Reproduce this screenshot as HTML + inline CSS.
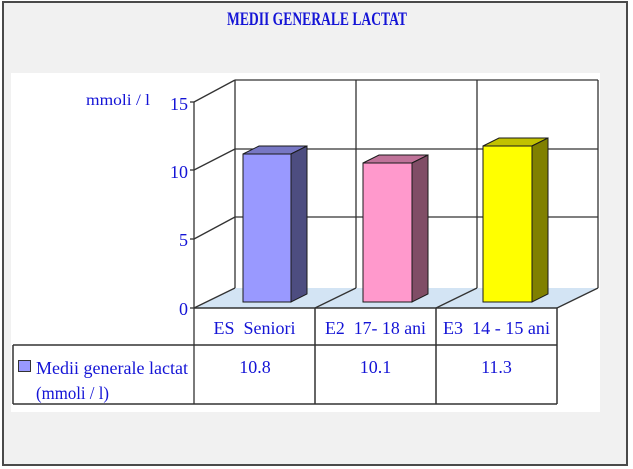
<!DOCTYPE html>
<html><head><meta charset="utf-8"><style>
html,body{margin:0;padding:0;background:#fff;}
svg{display:block;}
text{font-family:"Liberation Serif","Times New Roman",serif;fill:#1414d6;}
</style></head><body>
<svg width="633" height="469" viewBox="0 0 633 469" xmlns="http://www.w3.org/2000/svg">
<rect x="0" y="0" width="633" height="469" fill="#ffffff"/>
<rect x="3" y="2" width="624" height="463" fill="#f1f1f1" stroke="#4a4a4a" stroke-width="2"/>
<rect x="11" y="73" width="589" height="339" fill="#ffffff"/>
<text x="317" y="25" text-anchor="middle" font-size="19" font-weight="bold" textLength="180" lengthAdjust="spacingAndGlyphs">MEDII GENERALE LACTAT</text>
<!-- walls -->
<polygon points="194,308 557,308 598,288 235,288" fill="#d3e4f4"/>
<g stroke="#333" stroke-width="1.3" fill="none">
<line x1="235" y1="80" x2="598" y2="80"/>
<line x1="598" y1="80" x2="598" y2="288"/>
<line x1="235" y1="80" x2="235" y2="288"/>
<line x1="235" y1="149" x2="598" y2="149"/>
<line x1="235" y1="217" x2="598" y2="217"/>
<line x1="356" y1="80" x2="356" y2="288"/>
<line x1="477" y1="80" x2="477" y2="288"/>
<line x1="194" y1="102" x2="235" y2="80"/>
<line x1="194" y1="170" x2="235" y2="149"/>
<line x1="194" y1="239" x2="235" y2="217"/>
<line x1="194" y1="308" x2="235" y2="288"/>
<line x1="315" y1="308" x2="356" y2="288"/>
<line x1="436" y1="308" x2="477" y2="288"/>
<line x1="557" y1="308" x2="598" y2="288"/>
<line x1="194" y1="102" x2="194" y2="404"/>
<line x1="190" y1="102" x2="194" y2="102"/>
<line x1="190" y1="170" x2="194" y2="170"/>
<line x1="190" y1="239" x2="194" y2="239"/>
<line x1="190" y1="308" x2="194" y2="308"/>
</g>
<!-- bars -->
<g stroke="#1a1a1a" stroke-width="1">
<polygon points="243,154 291,154 307,146 259,146" fill="#7777c4"/>
<polygon points="291,154 307,146 307,294 291,302" fill="#4d4d80"/>
<rect x="243" y="154" width="48" height="148" fill="#9999ff"/>
<polygon points="363,163 412,163 428,155 379,155" fill="#bf7399"/>
<polygon points="412,163 428,155 428,294 412,302" fill="#804d66"/>
<rect x="363" y="163" width="49" height="139" fill="#ff99cc"/>
<polygon points="483,146 532,146 548,138 499,138" fill="#c2c200"/>
<polygon points="532,146 548,138 548,294 532,302" fill="#808000"/>
<rect x="483" y="146" width="49" height="156" fill="#ffff00"/>
</g>
<!-- table -->
<g stroke="#333" stroke-width="1.5" fill="none">
<line x1="194" y1="308" x2="557" y2="308"/>
<line x1="13" y1="345" x2="557" y2="345"/>
<line x1="13" y1="404" x2="557" y2="404"/>
<line x1="13" y1="345" x2="13" y2="404"/>
<line x1="315" y1="308" x2="315" y2="404"/>
<line x1="436" y1="308" x2="436" y2="404"/>
<line x1="557" y1="308" x2="557" y2="404"/>
</g>
<rect x="18.5" y="360.5" width="12" height="11" fill="#9999ff" stroke="#333" stroke-width="1"/>
<!-- axis labels -->
<text x="150" y="105" text-anchor="end" font-size="16" textLength="64" lengthAdjust="spacingAndGlyphs">mmoli / l</text>
<text x="188" y="110" text-anchor="end" font-size="18">15</text>
<text x="188" y="178" text-anchor="end" font-size="18">10</text>
<text x="188" y="246" text-anchor="end" font-size="18">5</text>
<text x="188" y="315" text-anchor="end" font-size="18">0</text>
<text x="254.5" y="334" text-anchor="middle" font-size="18" textLength="82" lengthAdjust="spacingAndGlyphs" xml:space="preserve">ES  Seniori</text>
<text x="375.5" y="334" text-anchor="middle" font-size="18" textLength="101" lengthAdjust="spacingAndGlyphs" xml:space="preserve">E2  17- 18 ani</text>
<text x="496.5" y="334" text-anchor="middle" font-size="18" textLength="107" lengthAdjust="spacingAndGlyphs" xml:space="preserve">E3  14 - 15 ani</text>
<text x="36" y="374" font-size="18" textLength="152" lengthAdjust="spacingAndGlyphs">Medii generale lactat</text>
<text x="36" y="399" font-size="18" textLength="73" lengthAdjust="spacingAndGlyphs">(mmoli / l)</text>
<text x="255" y="373" text-anchor="middle" font-size="18">10.8</text>
<text x="375.5" y="373" text-anchor="middle" font-size="18">10.1</text>
<text x="496.5" y="373" text-anchor="middle" font-size="18">11.3</text>
</svg>
</body></html>
